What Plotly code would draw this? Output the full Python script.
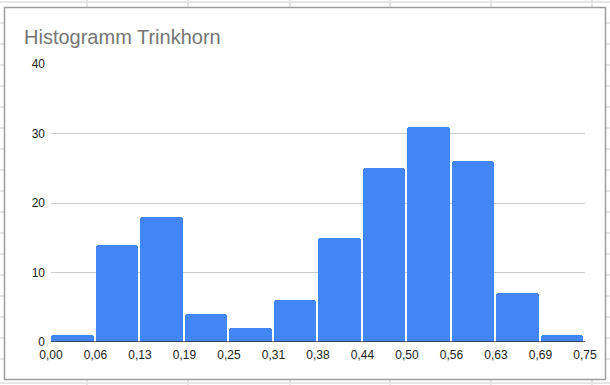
import plotly.graph_objects as go

# Data
bin_edges = [0.0, 0.0625, 0.125, 0.1875, 0.25, 0.3125, 0.375, 0.4375, 0.5, 0.5625, 0.625, 0.6875, 0.75]
tick_labels = ["0,00", "0,06", "0,13", "0,19", "0,25", "0,31", "0,38", "0,44", "0,50", "0,56", "0,63", "0,69", "0,75"]
counts = [1, 14, 18, 4, 2, 6, 15, 25, 31, 26, 7, 1]
y_ticks = [0, 10, 20, 30, 40]

bin_w = bin_edges[1] - bin_edges[0]
lefts = bin_edges[:-1]

W, H = 610, 385
L, R, T, B = 51, 25, 64, 43
pw, ph = W - L - R, H - T - B

def px(x):
    return (x - L) / pw

def py(y):
    return (H - B - y) / ph

fig = go.Figure()
fig.add_trace(go.Bar(
    x=lefts, y=counts, offset=0, width=bin_w * 0.955,
    marker=dict(color="#4285f4", line=dict(width=0), cornerradius=3),
    hoverinfo="skip",
))

shapes = []
# faint spreadsheet grid outside the chart frame
grid_col = "#e6e6e6"
for gx in [87, 188, 290, 390, 491, 592]:
    shapes.append(dict(type="line", xref="paper", yref="paper", x0=px(gx), x1=px(gx), y0=py(0), y1=py(7), line=dict(color=grid_col, width=2), layer="below"))
    shapes.append(dict(type="line", xref="paper", yref="paper", x0=px(gx), x1=px(gx), y0=py(380), y1=py(385), line=dict(color=grid_col, width=2), layer="below"))
shapes.append(dict(type="line", xref="paper", yref="paper", x0=px(0), x1=px(610), y0=py(2), y1=py(2), line=dict(color=grid_col, width=2), layer="below"))
shapes.append(dict(type="line", xref="paper", yref="paper", x0=px(0), x1=px(610), y0=py(383), y1=py(383), line=dict(color=grid_col, width=2), layer="below"))
for gy in range(23, 380, 21):
    shapes.append(dict(type="line", xref="paper", yref="paper", x0=px(0), x1=px(4), y0=py(gy), y1=py(gy), line=dict(color=grid_col, width=2), layer="below"))
    shapes.append(dict(type="line", xref="paper", yref="paper", x0=px(606), x1=px(610), y0=py(gy), y1=py(gy), line=dict(color=grid_col, width=2), layer="below"))
# chart frame
shapes.append(dict(type="rect", xref="paper", yref="paper", x0=px(4.5), x1=px(605.5), y0=py(7.5), y1=py(379.5),
                   line=dict(color="#9e9e9e", width=1.5), fillcolor="rgba(0,0,0,0)", layer="below"))
# baseline
shapes.append(dict(type="line", xref="paper", yref="y", x0=0, x1=1, y0=0, y1=0, line=dict(color="#333333", width=1.5)))

fig.update_layout(
    width=W, height=H,
    margin=dict(l=L, r=R, t=T, b=B, pad=0),
    paper_bgcolor="white", plot_bgcolor="white",
    showlegend=False,
    font=dict(family="Liberation Sans, Arial, sans-serif", size=12, color="#222222"),
    title=dict(text="Histogramm Trinkhorn", x=24 / W, xref="container", xanchor="left",
               y=1 - 37 / H, yref="container", yanchor="middle",
               font=dict(family="Liberation Sans, Arial, sans-serif", size=20, color="#757575")),
    shapes=shapes,
    bargap=0,
)
fig.update_xaxes(range=[0, 0.75], tickvals=bin_edges, ticktext=tick_labels, showgrid=False,
                 zeroline=False, showline=False, ticks="", ticklabelstandoff=4,
                 tickfont=dict(size=12, color="#222222"))
fig.update_yaxes(range=[0, 40], tickvals=y_ticks, showgrid=True, gridcolor="#cccccc", gridwidth=1,
                 zeroline=False, showline=False, ticks="", ticklabelstandoff=5,
                 tickfont=dict(size=12, color="#222222"))

fig.write_html("out.html", config={"displayModeBar": False},
               post_script="document.body.style.margin='0';")
